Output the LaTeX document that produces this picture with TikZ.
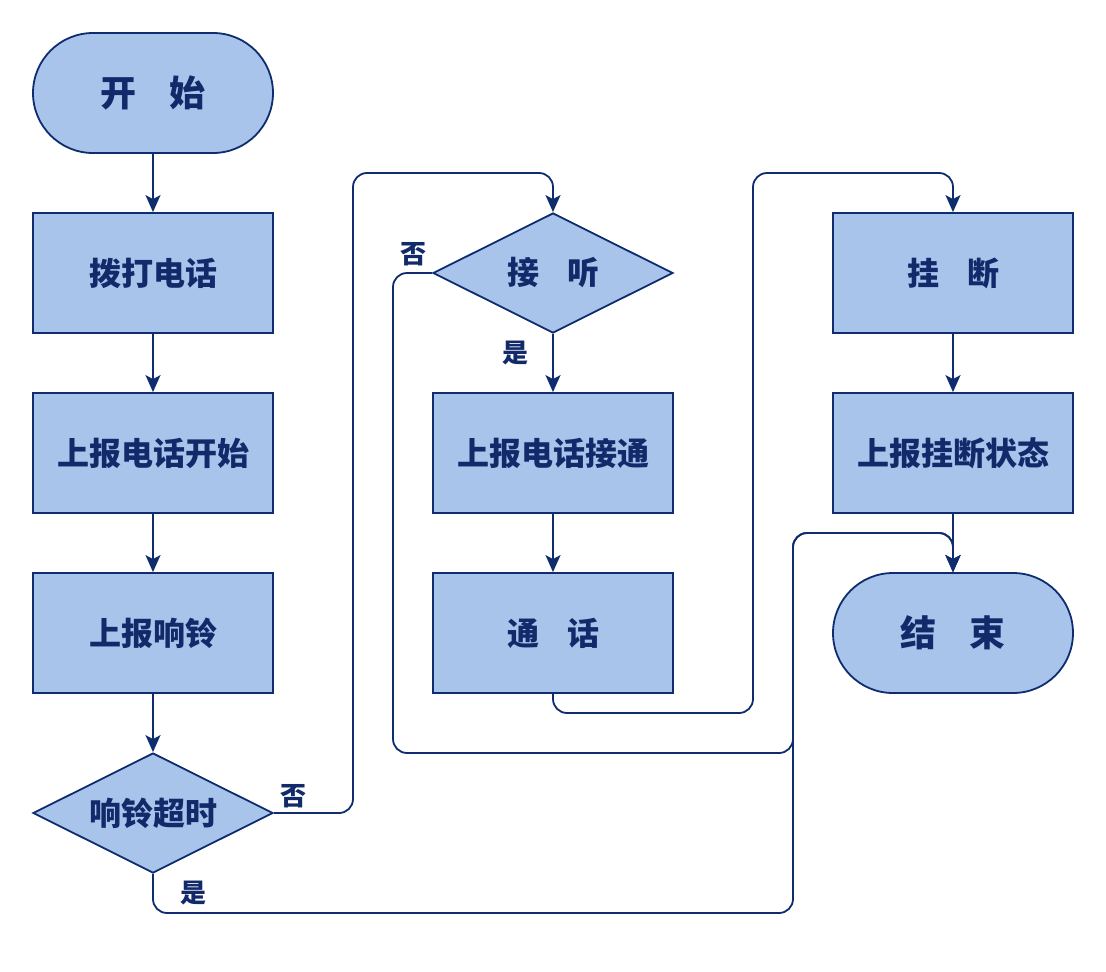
\documentclass[tikz,border=0pt]{standalone}
\usepackage{fontspec}
\setmainfont{Noto Sans CJK SC}
\usetikzlibrary{shapes.geometric,arrows.meta}
\definecolor{linec}{HTML}{0E2C6E}
\definecolor{fillc}{HTML}{A9C4EB}
\definecolor{txtc}{HTML}{12296A}
\begin{document}
\begin{tikzpicture}[x=1pt,y=-1pt,
  base/.style={draw=linec, fill=fillc, line width=1.8pt, inner sep=0pt, text=txtc,
    font=\bfseries\fontsize{32}{32}\selectfont},
  proc/.style={base, rectangle, minimum width=240pt, minimum height=120pt},
  term/.style={base, rectangle, rounded corners=60pt, minimum width=240pt, minimum height=120pt,
    font=\bfseries\fontsize{36}{36}\selectfont},
  dec/.style={base, diamond, aspect=2, minimum width=240pt, minimum height=120pt},
  conn/.style={draw=linec, line width=1.8pt, rounded corners=14pt,
    -{Stealth[length=17pt,width=15pt,inset=4pt]}},
  lab/.style={text=txtc, inner sep=0pt, font=\bfseries\fontsize{26}{26}\selectfont}
]
\useasboundingbox (0,0) rectangle (1106,972);
\node[term] (start) at (153,93) {开\hspace{33pt}始};
\node[proc] (dial) at (153,273) {拨打电话};
\node[proc] (rep1) at (153,453) {上报电话开始};
\node[proc] (ring) at (153,633) {上报响铃};
\node[dec]  (tout) at (153,813) {响铃超时};
\node[dec]  (ans)  at (553,273) {接\hspace{28pt}听};
\node[proc] (rep2) at (553,453) {上报电话接通};
\node[proc] (talk) at (553,633) {通\hspace{28pt}话};
\node[proc] (hang) at (953,273) {挂\hspace{28pt}断};
\node[proc] (rep3) at (953,453) {上报挂断状态};
\node[term] (stop) at (953,633) {结\hspace{33pt}束};

\draw[conn] (start) -- (dial);
\draw[conn] (dial) -- (rep1);
\draw[conn] (rep1) -- (ring);
\draw[conn] (ring) -- (tout);
\draw[conn] (ans) -- (rep2);
\draw[conn] (rep2) -- (talk);
\draw[conn] (hang) -- (rep3);
\draw[conn] (rep3) -- (stop);

\draw[conn] (tout.east) -- (353,813) -- (353,173) -- (553,173) -- (ans.north);
\draw[conn] (tout.south) -- (153,913) -- (793,913) -- (793,533) -- (953,533) -- (stop.north);
\draw[conn] (ans.west) -- (393,273) -- (393,753) -- (793,753) -- (793,533) -- (953,533) -- (stop.north);
\draw[conn] (talk.south) -- (553,713) -- (753,713) -- (753,173) -- (953,173) -- (hang.north);

\node[lab] (l1) at (293,796) {否};
\node[lab] (l2) at (193,893) {是};
\node[lab] (l3) at (413,254) {否};
\node[lab] (l4) at (515,353) {是};
\end{tikzpicture}
\end{document}
